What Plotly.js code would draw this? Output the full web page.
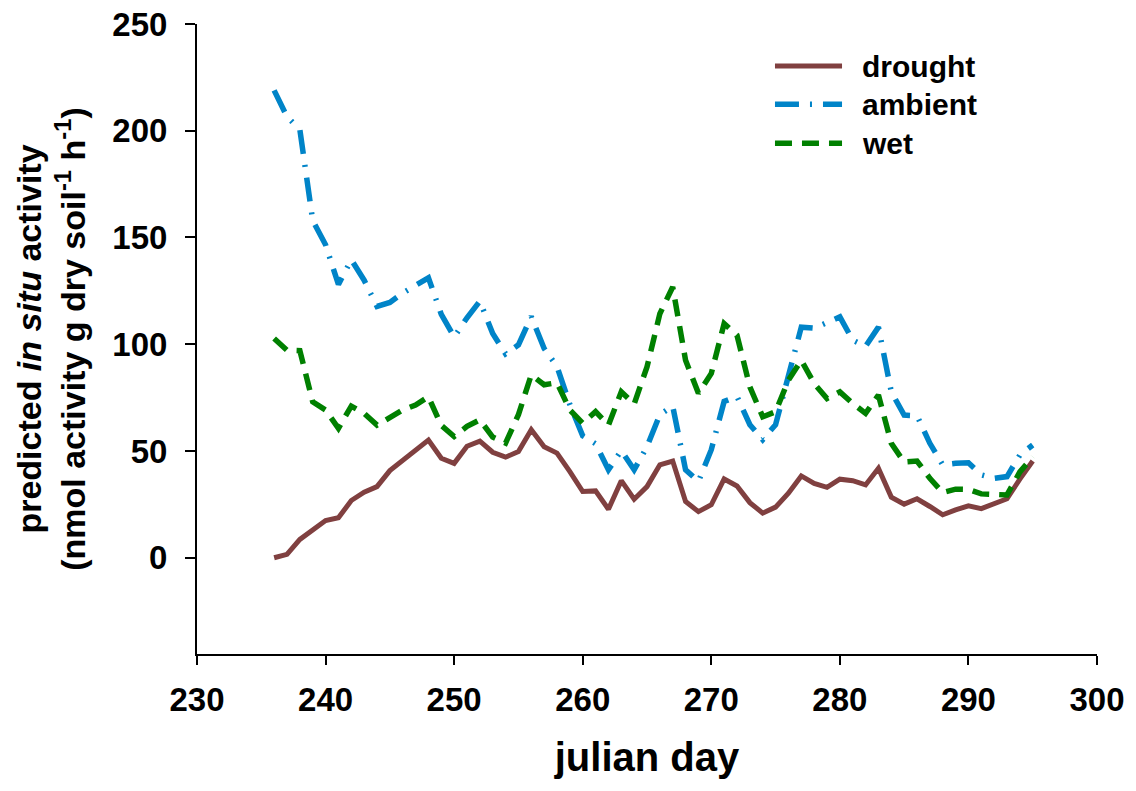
<!DOCTYPE html>
<html>
<head>
<meta charset="utf-8">
<script src="https://cdn.plot.ly/plotly-3.0.1.min.js"></script>
<style>html,body{margin:0;padding:0;background:#fff;}#chart{width:1136px;height:791px;}</style>
</head>
<body>
<div id="chart"></div>
<script>
const days = [236,237,238,239,240,241,242,243,244,245,246,247,248,249,250,251,252,253,254,255,
  256,257,258,259,260,261,262,263,264,265,266,267,268,269,270,271,272,273,274,275,
  276,277,278,279,280,281,282,283,284,285,286,287,288,289,290,291,292,293,294,295];

const drought = [0,1.6,8.6,13,17.4,18.7,26.8,30.7,33.3,40.8,
  45.5,49.7,55.1,46.6,44.2,52.2,54.6,49.4,47.1,49.7,
  60,52,49,40.3,31,31.3,22.7,36.1,27.4,33.3,
  43.5,45.3,26.3,21.6,24.8,36.9,33.6,25.8,20.9,23.7,
  30.2,38.3,34.8,33,36.8,36.1,34.1,41.9,28.4,25.1,
  27.6,24,20.1,22.4,24.3,23,25.1,27.6,36.8,45.3];

const ambient = [218.9,206.6,200.5,158,146.6,128,139.6,130,117.7,119.6,
  124,127.9,131.1,114,103.4,112.4,120.2,105,95.5,99.7,
  113,98,89.6,71.7,57.1,53.4,41.2,50.2,41.2,52,
  67,71,41.2,35.7,50.6,73.2,75.5,62.3,55.3,62.3,
  86,108,107.5,110,112.8,101.9,99,108,77.7,66.8,
  66.5,53.6,43.5,44.2,44.5,38.8,37.2,38,48.1,52.8];

const wet = [102.7,97.2,97,73,69.2,60.6,71,67.6,62.1,66,
  69.2,71.5,75.4,62,56.8,61.5,64.6,56.5,53.7,67,
  85.7,81,82,69.2,63,68.4,62.1,77.7,72,89.4,
  114.3,126.8,92.5,77,86.3,109.7,104.2,80,66,68.4,
  83.2,92.5,81.6,74.6,77.7,72.3,67.6,76.2,53.6,44.8,
  45.3,37.2,30.5,32.1,32,29.9,29.6,29.4,40.2,47.3];

const seriesNames = ['drought','ambient','wet'];
const seriesColors = ['rgb(128,64,64)','rgb(0,132,200)','rgb(0,128,0)'];
const seriesDash = ['solid','24px,11px,2px,11px','17px,10px'];
const seriesWidth = [5, 5.5, 5.5];
const xTicks = [230,240,250,260,270,280,290,300];
const yTicks = [0,50,100,150,200,250];

const FONT = 'Liberation Sans, Arial, Helvetica, sans-serif';
const seriesData = [drought, ambient, wet];

const traces = seriesData.map((vals, i) => ({
  x: days, y: vals, name: seriesNames[i], type: 'scatter', mode: 'lines',
  line: {color: seriesColors[i], width: seriesWidth[i], dash: seriesDash[i]},
  showlegend: false
}));

// legend drawn as shapes + text (longer line samples like the reference)
const legX0 = 0.6422, legX1 = 0.7167, legTextX = 0.7367;
const legY = [0.9333, 0.8725, 0.8106];
const shapes = seriesNames.map((n, i) => ({
  type: 'line', xref: 'paper', yref: 'paper',
  x0: legX0, x1: legX1, y0: legY[i], y1: legY[i],
  line: {color: seriesColors[i], width: seriesWidth[i], dash: seriesDash[i]}
}));
const annotations = seriesNames.map((n, i) => ({
  text: n, xref: 'paper', yref: 'paper', x: legTextX, y: legY[i],
  xanchor: 'left', yanchor: 'middle', showarrow: false,
  font: {family: FONT, size: 30, weight: 'bold', color: '#000'}
}));

const layout = {
  width: 1136, height: 791,
  margin: {l: 197, r: 39, t: 24, b: 137, pad: 0},
  paper_bgcolor: '#fff', plot_bgcolor: '#fff',
  font: {family: FONT, color: '#000'},
  showlegend: false,
  shapes: shapes,
  annotations: annotations,
  xaxis: {
    range: [230, 300], tickvals: xTicks, ticktext: xTicks.map(String),
    ticks: 'outside', ticklen: 9, tickwidth: 2, tickcolor: '#000',
    showline: true, linecolor: '#000', linewidth: 2,
    showgrid: false, zeroline: false, mirror: false,
    ticklabelstandoff: 6,
    tickfont: {family: FONT, size: 33, weight: 'bold', color: '#000'},
    title: {text: 'julian day', standoff: 26,
            font: {family: FONT, size: 40, weight: 'bold', color: '#000'}}
  },
  yaxis: {
    range: [-45.1, 250], tickvals: yTicks, ticktext: yTicks.map(String),
    ticks: 'outside', ticklen: 10, tickwidth: 2, tickcolor: '#000',
    showline: true, linecolor: '#000', linewidth: 2,
    showgrid: false, zeroline: false,
    ticklabelstandoff: 11,
    tickfont: {family: FONT, size: 33, weight: 'bold', color: '#000'},
    title: {text: 'predicted <i>in situ</i> activity<br>(nmol activity g dry soil<sup>-1</sup> h<sup>-1</sup>)',
            standoff: 16,
            font: {family: FONT, size: 34, weight: 'bold', color: '#000'}}
  }
};

Plotly.newPlot('chart', traces, layout, {displayModeBar: false, staticPlot: true});
</script>
</body>
</html>
